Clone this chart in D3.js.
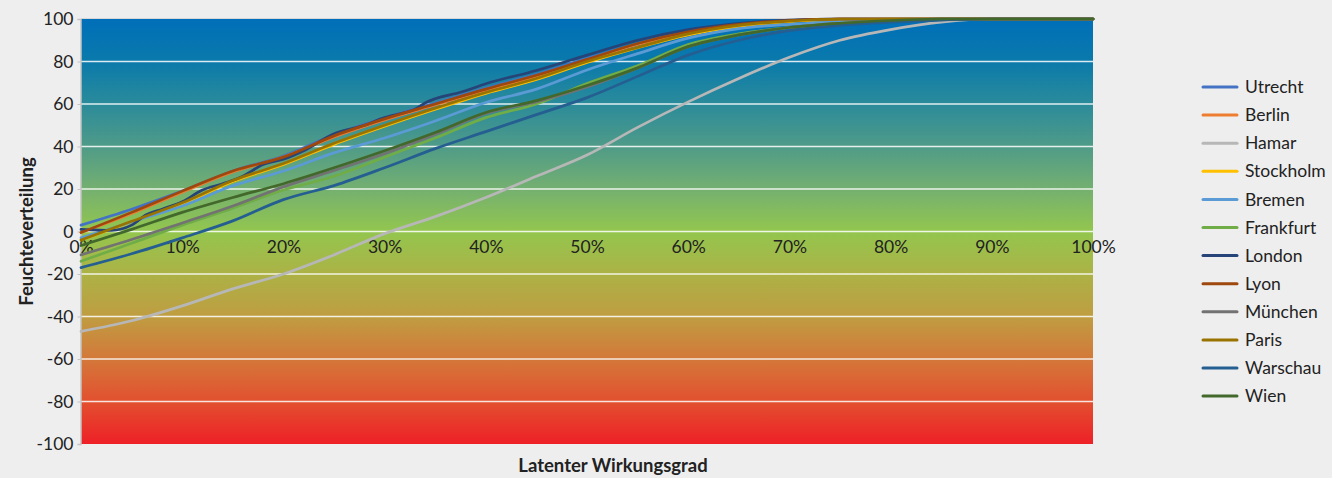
<!DOCTYPE html>
<html>
<head>
<meta charset="utf-8">
<script src="https://cdn.jsdelivr.net/npm/d3@7"></script>
<style>
  html, body { margin: 0; padding: 0; background: #eeeeee; }
  svg { display: block; font-family: Lato, "Open Sans", sans-serif; }
</style>
</head>
<body>
<svg id="chart" width="1332" height="478"></svg>
<script>
// Share of latent efficiency (%) at which each city is sampled
const pct = [0, 5, 10, 15, 20, 25, 30, 35, 40, 45, 50, 55, 60, 65, 70, 75, 80, 85, 90, 95, 100];

const utrecht   = [3, 10.5, 19, 28.5, 35.5, 45.5, 53.5, 60.5, 67.5, 74, 81.5, 88.5, 94, 97.5, 99.3, 100, 100, 100, 100, 100, 100];
const berlin    = [-0.5, 8.5, 18.5, 28, 35, 44.5, 52.5, 59.5, 66.5, 73, 80.5, 88, 93.5, 97, 99, 100, 100, 100, 100, 100, 100];
const hamar     = [-47, -42, -35, -27, -20, -11, -1, 7, 16, 26, 36, 49, 61, 72, 82, 90, 95, 98.5, 100, 100, 100];
const stockholm = [-4, 4.5, 13, 23.5, 31.5, 41, 49.5, 57.5, 65, 71.5, 79.5, 86.5, 92.5, 96.5, 98.8, 99.7, 100, 100, 100, 100, 100];
const bremen    = [-3, 4.5, 12, 21.5, 28.5, 37, 44, 52, 60.7, 67, 76, 83.7, 91, 95.5, 97.5, 98.7, 99.5, 100, 100, 100, 100];
const frankfurt = [-14, -5.5, 3, 11, 19.5, 26, 35, 44, 53.6, 60, 69.6, 78, 88, 93, 96, 98, 99.3, 100, 100, 100, 100];
const lyon      = [-0.5, 9, 19, 28.5, 35, 45, 53, 60, 67, 73.5, 81, 88.5, 94, 97.5, 99.3, 100, 100, 100, 100, 100, 100];
const muenchen  = [-11, -3.8, 4, 12, 21, 28.7, 36.6, 45.6, 55.5, 61, 68, 77, 87, 92.5, 96, 98, 99.3, 100, 100, 100, 100];
const paris     = [-4, 4.8, 13.5, 24, 32, 41.5, 50, 58, 65.4, 72, 80, 86.6, 93, 97, 99, 100, 100, 100, 100, 100, 100];
const warschau  = [-17, -10.5, -3, 5, 15, 21.6, 30, 39, 47, 55, 63, 73, 83, 90, 94.5, 97, 98.5, 99.5, 100, 100, 100];
const wien      = [-6.6, 1, 9, 16, 22.5, 30, 38, 46.6, 56, 61.6, 68.7, 77, 87, 92.5, 96, 98, 99.3, 100, 100, 100, 100];

// London is sampled more finely because of its small steps
const londonPct = [0, 3, 5, 6.5, 8, 10, 12, 14, 16, 18, 20, 22, 25, 28, 30, 32, 33, 34, 35, 37.5, 40, 45, 50, 55, 60, 65, 70, 75, 80, 85, 90, 95, 100];
const london    = [1, 0.5, 3, 8, 10.5, 14, 19.5, 22.5, 26, 31.5, 34, 38, 46, 50, 53.6, 56, 57.5, 60.5, 62.5, 65.5, 69.5, 75.8, 83, 90, 95, 98, 99.5, 100, 100, 100, 100, 100, 100];

const cityNames = ["Utrecht", "Berlin", "Hamar", "Stockholm", "Bremen", "Frankfurt", "London", "Lyon", "München", "Paris", "Warschau", "Wien"];
const cityColors = ["#4472c4", "#ed7d31", "#b7b7b7", "#ffc000", "#5b9bd5", "#70ad47", "#264478", "#9e480e", "#727272", "#997300", "#255e91", "#43682b"];
const cityValues = [utrecht, berlin, hamar, stockholm, bremen, frankfurt, london, lyon, muenchen, paris, warschau, wien];
const cityPct    = [pct, pct, pct, pct, pct, pct, londonPct, pct, pct, pct, pct, pct];

const yTicks = [-100, -80, -60, -40, -20, 0, 20, 40, 60, 80, 100];
const xTicks = [0, 10, 20, 30, 40, 50, 60, 70, 80, 90, 100];

const xTitle = "Latenter Wirkungsgrad";
const yTitle = "Feuchteverteilung";

const series = cityNames.map((name, i) => ({
  name,
  color: cityColors[i],
  points: cityPct[i].map((p, j) => ({ p, v: cityValues[i][j] }))
}));

const svg = d3.select("#chart");
const plot = { left: 81, right: 1093, top: 19, bottom: 444 };

const x = d3.scaleLinear().domain([0, 100]).range([plot.left, plot.right]);
const y = d3.scaleLinear().domain([-100, 100]).range([plot.bottom, plot.top]);

// vertical colour band: blue (wet) through green to red
const defs = svg.append("defs");
const grad = defs.append("linearGradient")
  .attr("id", "band")
  .attr("x1", 0).attr("y1", 0).attr("x2", 0).attr("y2", 1);
[
  [0.00, "#006fb9"],
  [0.10, "#0a7aab"],
  [0.20, "#2b8b9a"],
  [0.30, "#4f9b88"],
  [0.40, "#74b070"],
  [0.50, "#93c64e"],
  [0.60, "#acb246"],
  [0.70, "#bf9d41"],
  [0.80, "#d4783a"],
  [0.90, "#e2502f"],
  [1.00, "#ee2027"]
].forEach(([o, c]) => grad.append("stop").attr("offset", o).attr("stop-color", c));

svg.append("rect")
  .attr("x", plot.left).attr("y", plot.top)
  .attr("width", plot.right - plot.left).attr("height", plot.bottom - plot.top)
  .attr("fill", "url(#band)");

// horizontal grid lines
svg.append("g")
  .selectAll("line")
  .data(yTicks.filter(t => t > -100 && t < 100))
  .join("line")
  .attr("x1", plot.left).attr("x2", plot.right)
  .attr("y1", d => y(d)).attr("y2", d => y(d))
  .attr("stroke", "#ffffff").attr("stroke-opacity", 0.85).attr("stroke-width", 1.5);

// frame line along the top
svg.append("line")
  .attr("x1", plot.left).attr("x2", plot.right)
  .attr("y1", plot.top - 0.5).attr("y2", plot.top - 0.5)
  .attr("stroke", "#d6d6d6").attr("stroke-width", 1);

// y axis
const yAxis = svg.append("g")
  .attr("transform", `translate(${plot.left - 0.5},0)`)
  .call(d3.axisLeft(y).tickValues(yTicks).tickSize(3).tickPadding(4).tickFormat(d => String(d)));
yAxis.select(".domain").attr("stroke", "#c4c4c4").attr("stroke-width", 1.5);
yAxis.selectAll(".tick line").attr("stroke", "#c4c4c4");
yAxis.selectAll("text")
  .attr("font-size", 17.5).attr("fill", "#222").attr("font-family", "Lato, sans-serif");

// x axis labels sit just below the zero line
const xAxis = svg.append("g")
  .attr("transform", `translate(0,${y(0)})`)
  .call(d3.axisBottom(x).tickValues(xTicks).tickSize(0).tickPadding(9).tickFormat(d => d + "%"));
xAxis.select(".domain").remove();
xAxis.selectAll("text")
  .attr("font-size", 17.5).attr("fill", "#222").attr("font-family", "Lato, sans-serif");

// series lines
const line = d3.line()
  .x(d => x(d.p))
  .y(d => y(d.v))
  .curve(d3.curveMonotoneX);

svg.append("g")
  .selectAll("path")
  .data(series)
  .join("path")
  .attr("d", d => line(d.points))
  .attr("fill", "none")
  .attr("stroke", d => d.color)
  .attr("stroke-width", 2.7)
  .attr("stroke-linejoin", "round")
  .attr("stroke-linecap", "round");

// axis titles
svg.append("text")
  .attr("x", 613)
  .attr("y", 472)
  .attr("text-anchor", "middle")
  .attr("font-size", 18.5).attr("font-weight", "bold").attr("fill", "#222")
  .text(xTitle);

svg.append("text")
  .attr("transform", `translate(33,${(plot.top + plot.bottom) / 2}) rotate(-90)`)
  .attr("text-anchor", "middle")
  .attr("font-size", 18.5).attr("font-weight", "bold").attr("fill", "#222")
  .text(yTitle);

// legend
const legend = svg.append("g").attr("transform", "translate(1203,87)");
const rows = legend.selectAll("g")
  .data(series)
  .join("g")
  .attr("transform", (d, i) => `translate(0,${i * 28.1})`);
rows.append("line")
  .attr("x1", 0).attr("x2", 34)
  .attr("stroke", d => d.color).attr("stroke-width", 3)
  .attr("stroke-linecap", "round");
rows.append("text")
  .attr("x", 42).attr("dy", "0.35em")
  .attr("font-size", 17.5).attr("fill", "#222")
  .text(d => d.name);
</script>
</body>
</html>
